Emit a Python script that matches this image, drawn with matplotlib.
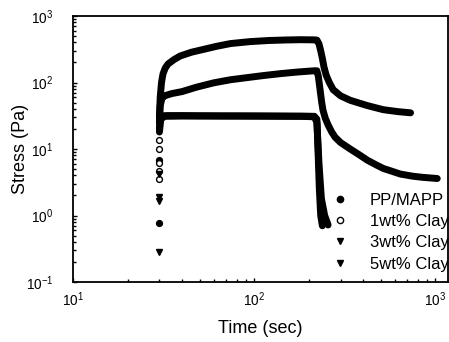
import matplotlib
matplotlib.use("Agg")
import matplotlib.pyplot as plt
from matplotlib.lines import Line2D
from matplotlib.ticker import LogLocator, LogFormatterSciNotation, NullFormatter

plt.rcParams['font.family'] = ['Liberation Sans', 'DejaVu Sans']
plt.rcParams['mathtext.fontset'] = 'custom'
plt.rcParams['mathtext.rm'] = 'Liberation Sans'
plt.rcParams['mathtext.it'] = 'Liberation Sans:italic'
plt.rcParams['mathtext.bf'] = 'Liberation Sans:bold'

# ---------------- data ----------------
labels = ["PP/MAPP", "1wt% Clay", "3wt% Clay", "5wt% Clay"]

# isolated start-up points at t = 30 s
rise_t = 30
pp_rise_s = [0.78, 6.8]
c1_rise_s = [3.5, 4.6, 6.2, 10, 13.5]
c3_rise_s = [0.28, 1.9]
c5_rise_s = [1.65, 4.2]

# continuous bands
pp_t = [30, 30.2, 31, 33, 40, 50, 65, 80, 100, 130, 160, 190, 215, 222, 225, 229, 233, 238]
pp_s = [20, 29, 31.5, 31.8, 31.8, 31.6, 31.5, 31.5, 31.4, 31.3, 31.2, 31.2, 31.0, 28, 10, 2.5, 1.0, 0.7]

c1_t = [30, 30.5, 32, 40, 55, 75, 100, 140, 180, 215, 222, 228, 235, 245, 256]
c1_s = [18, 28, 31, 31.3, 31.3, 31.2, 31.2, 31.1, 31, 30.5, 25, 6, 1.8, 1.0, 0.72]

c3_t = [30, 30.3, 31, 32, 35, 40, 48, 60, 74, 95, 112, 140, 170, 200, 215, 222, 226,
        229, 232, 236, 240, 247, 256, 268, 280, 300, 339, 380, 421, 470, 516, 580, 641,
        750, 850, 1025]
c3_s = [25, 45, 58, 63, 68, 73, 85, 99, 110, 120, 127, 136, 143, 148, 150, 150, 125,
        95, 72, 50, 38, 29, 23, 18, 15, 12.5, 10, 8.2, 6.8, 5.8, 5.1, 4.6, 4.2,
        3.9, 3.75, 3.6]

c5_t = [30, 30.3, 30.8, 31.4, 32.3, 33.5, 36, 39, 45, 50, 62, 74, 95, 120, 150, 180, 212, 222,
        228, 233, 238, 243, 250, 260, 273, 300, 339, 421, 516, 620, 730]
c5_s = [30, 60, 100, 135, 165, 190, 220, 250, 285, 305, 350, 385, 412, 428, 436, 440, 438, 435,
        380, 300, 230, 170, 128, 100, 78, 63, 54, 45, 39, 36.5, 35]

markers = ['o', 'o', 'v', 'v']
faces = ['black', 'white', 'black', 'black']

# ---------------- figure ----------------
fig = plt.figure(figsize=(4.49, 3.42), dpi=100)
ax = fig.add_axes([73/449, 1 - 282/342, 375/449, 266/342])

bands = [(pp_t, pp_s), (c1_t, c1_s), (c3_t, c3_s), (c5_t, c5_s)]
rises = [pp_rise_s, c1_rise_s, c3_rise_s, c5_rise_s]
for (t, s), r, m, fc in zip(bands, rises, markers, faces):
    ax.plot(t, s, color='black', lw=5, solid_capstyle='round', solid_joinstyle='round')
    ax.plot([rise_t] * len(r), r, linestyle='none', marker=m, ms=4.2,
            mfc=fc, mec='black', mew=1.0)

ax.set_xscale('log')
ax.set_yscale('log')
ax.set_xlim(10, 1175)
ax.set_ylim(0.1, 1000)

ax.xaxis.set_major_locator(LogLocator(base=10, numticks=10))
ax.yaxis.set_major_locator(LogLocator(base=10, numticks=10))
ax.xaxis.set_minor_locator(LogLocator(base=10, subs=range(2, 10), numticks=20))
ax.yaxis.set_minor_locator(LogLocator(base=10, subs=range(2, 10), numticks=20))
ax.xaxis.set_major_formatter(LogFormatterSciNotation())
ax.yaxis.set_major_formatter(LogFormatterSciNotation())
ax.xaxis.set_minor_formatter(NullFormatter())
ax.yaxis.set_minor_formatter(NullFormatter())

ax.tick_params(which='both', direction='in', top=False, right=False, width=1.0, labelsize=9.8)
ax.tick_params(axis='x', which='major', length=3, pad=6)
ax.tick_params(axis='y', which='major', length=3, pad=14)
ax.tick_params(which='minor', length=2)
for sp in ax.spines.values():
    sp.set_linewidth(1.3)

ax.set_xlabel("Time (sec)", fontsize=13, labelpad=8)
ax.set_ylabel("Stress (Pa)", fontsize=13, labelpad=-2)

handles = [Line2D([], [], linestyle='none', marker=m, ms=4.5, mfc=fc, mec='black', mew=1.0)
           for m, fc in zip(markers, faces)]
ax.legend(handles, labels, loc='upper left', bbox_to_anchor=((332 - 73) / 375, (282 - 193) / 266),
          frameon=False, fontsize=12, handlelength=1.0, handletextpad=1.25,
          borderpad=0, borderaxespad=0, labelspacing=0.37, numpoints=1)

fig.savefig("out.png", dpi=100)
